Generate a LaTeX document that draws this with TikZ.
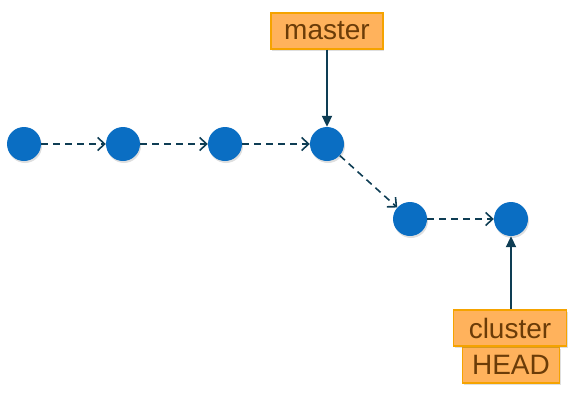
\documentclass[tikz,border=0pt]{standalone}
\usepackage{fontspec}
\setmainfont{Liberation Sans}
\usetikzlibrary{arrows.meta,shadows}
\definecolor{commit}{HTML}{0A6EC3}
\definecolor{edge}{HTML}{0E3D54}
\definecolor{tagfill}{HTML}{FFB25C}
\definecolor{tagdraw}{HTML}{F5A300}
\definecolor{tagtext}{HTML}{6B3C08}
\tikzset{
  commitnode/.style={circle,fill=commit,minimum size=34pt,inner sep=0pt,
    drop shadow={opacity=0.25,shadow xshift=1pt,shadow yshift=-2pt}},
  tagnode/.style={rectangle,fill=tagfill,draw=tagdraw,line width=1.3pt,inner sep=0pt,
    minimum height=36pt,text=tagtext,font=\fontsize{28}{32}\selectfont,
    drop shadow={opacity=0.25,shadow xshift=1pt,shadow yshift=-2pt}},
  parentedge/.style={draw=edge,line width=1.6pt,dash pattern=on 7pt off 5pt,
    -{Straight Barb[length=7pt,width=13pt,line width=1.6pt]}},
  refedge/.style={draw=edge,line width=2pt,-{Triangle[length=11pt,width=10pt]}}
}
\begin{document}
\begin{tikzpicture}[x=1pt,y=-1pt]
\useasboundingbox (0,0) rectangle (579,410);
\node[commitnode] (c1) at (24,144) {};
\node[commitnode] (c2) at (123,144) {};
\node[commitnode] (c3) at (225,144) {};
\node[commitnode] (c4) at (327,144) {};
\node[commitnode] (c5) at (410,219) {};
\node[commitnode] (c6) at (511,219) {};
\draw[parentedge] (c1) -- (c2);
\draw[parentedge] (c2) -- (c3);
\draw[parentedge] (c3) -- (c4);
\draw[parentedge] (c4) -- (c5);
\draw[parentedge] (c5) -- (c6);
\node[tagnode,minimum width=112pt] (master) at (327,31) {master};
\node[tagnode,minimum width=97pt] (head) at (511,365) {HEAD};
\node[tagnode,minimum width=113pt] (cluster) at (510,328) {cluster};
\draw[refedge] (master) -- (c4);
\draw[refedge] (cluster.north -| c6) -- (c6);
\end{tikzpicture}
\end{document}
